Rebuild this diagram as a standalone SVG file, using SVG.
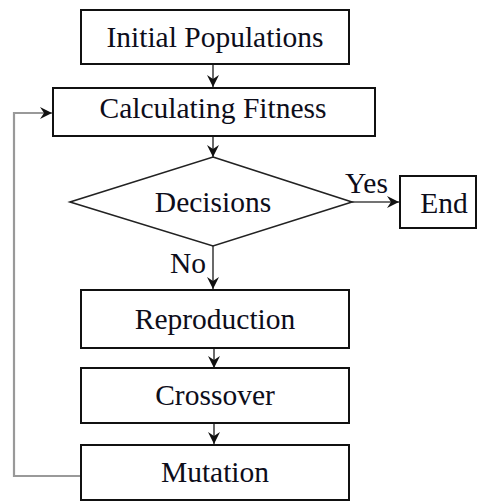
<svg xmlns="http://www.w3.org/2000/svg" width="479" height="501" viewBox="0 0 479 501">
<defs>
<style>
.box{fill:#fff;stroke:#111;stroke-width:2}
.dia{fill:#fff;stroke:#222;stroke-width:1.6}
.t{font-family:"Liberation Serif","Times New Roman",serif;font-size:29.5px;fill:#0d0d1a;text-anchor:middle}
.l{font-family:"Liberation Serif","Times New Roman",serif;font-size:29.5px;fill:#0d0d1a}
.c{fill:none;stroke:#444;stroke-width:1.6}
.fb{fill:none;stroke:#999;stroke-width:2.2}
</style>
<marker id="ah" viewBox="0 0 12 12" refX="12" refY="6" markerWidth="12" markerHeight="12" markerUnits="userSpaceOnUse" orient="auto">
<path d="M0,0 L12,6 L0,12 L4,6 Z" fill="#111"/>
</marker>
</defs>
<g id="connectors">
<path class="c" d="M213,64 V87" marker-end="url(#ah)"/>
<path class="c" d="M213,136 V157" marker-end="url(#ah)"/>
<path class="c" d="M352,202 H399" marker-end="url(#ah)"/>
<path class="c" d="M213,246 V289" marker-end="url(#ah)"/>
<path class="c" d="M214,348 V368" marker-end="url(#ah)"/>
<path class="c" d="M214,423 V444" marker-end="url(#ah)"/>
<path class="fb" d="M81,476 H14 V113 H52" marker-end="url(#ah)"/>
</g>
<g id="initial"><rect class="box" x="81" y="10" width="268" height="54"/><text class="t" x="215" y="47">Initial Populations</text></g>
<g id="fitness"><rect class="box" x="53" y="88" width="322" height="48"/><text class="t" x="213" y="118">Calculating Fitness</text></g>
<g id="decisions"><polygon class="dia" points="213,157 352,202 213,246 70,202"/><text class="t" x="213" y="212">Decisions</text></g>
<g id="end"><rect class="box" x="400" y="176" width="76" height="52"/><text class="t" x="444" y="213">End</text></g>
<g id="labels"><text class="l" x="345" y="193">Yes</text><text class="l" x="170" y="273">No</text></g>
<g id="reproduction"><rect class="box" x="81" y="290" width="268" height="58"/><text class="t" x="215" y="329">Reproduction</text></g>
<g id="crossover"><rect class="box" x="81" y="368" width="268" height="55"/><text class="t" x="215" y="405">Crossover</text></g>
<g id="mutation"><rect class="box" x="81" y="445" width="268" height="55"/><text class="t" x="215" y="482">Mutation</text></g>
</svg>
